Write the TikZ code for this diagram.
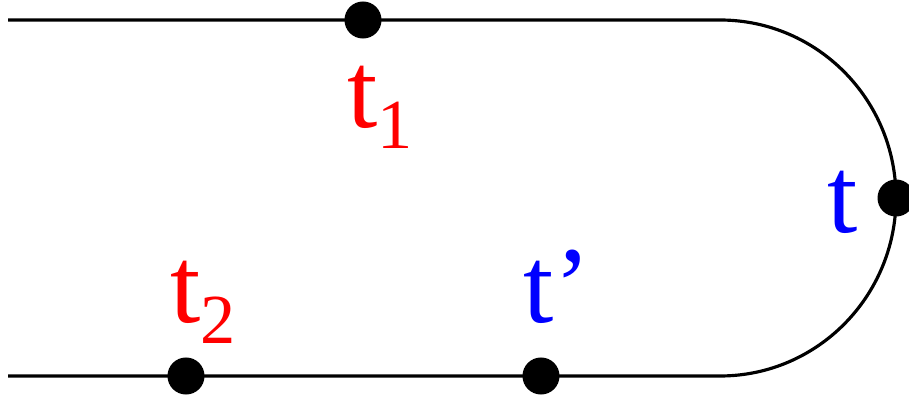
\documentclass[tikz,border=0pt]{standalone}
\usepackage{fontspec}
\setmainfont{Liberation Serif}
\newfontfamily\lblfont{Liberation Serif}
\usepackage{xcolor}
\usetikzlibrary{positioning}
\newcommand{\tsub}[1]{t\raisebox{-5.7pt}{\fontsize{20}{20}\selectfont #1}}

\begin{document}
\begin{tikzpicture}[
x=0.01cm, y=0.01cm,
dot/.style={circle, fill=black, inner sep=0pt, minimum size=0.37cm},
lbl/.style={inner sep=0pt, anchor=base west, font=\lblfont\fontsize{31}{31}\selectfont},
track/.style={line width=0.9pt}
]
\useasboundingbox (0,0) rectangle (909,400);
\coordinate (topstart) at (8,380);
\coordinate (topend) at (720,380);
\coordinate (botstart) at (8,24);
\draw[track] (topstart) -- (topend) arc[start angle=90, end angle=-90, x radius=176, y radius=178] -- (botstart);
\node[dot] (t1dot) at (363,380) {};
\node[dot] (tdot) at (896,202) {};
\node[dot] (t2dot) at (186,24) {};
\node[dot] (tpdot) at (541,24) {};
\node[lbl, text=red] (t1lbl) at (347,272) {\tsub{1}};
\node[lbl, text=blue] (tlbl) at (827,167) {t};
\node[lbl, text=red] (t2lbl) at (170,77) {\tsub{2}};
\node[lbl, text=blue] (tplbl) at (523,77) {t’};
\end{tikzpicture}
\end{document}
